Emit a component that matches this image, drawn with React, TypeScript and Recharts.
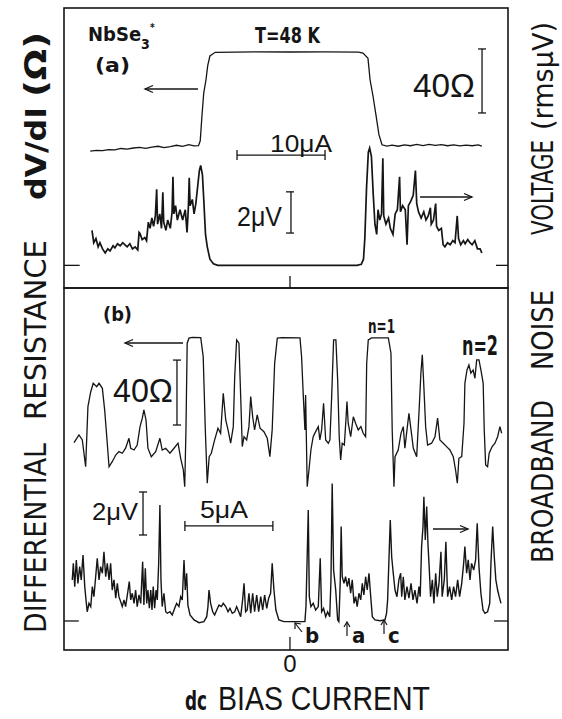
import { LineChart, Line, XAxis, YAxis, ReferenceLine } from "recharts";

const INK = "#151515";
const COND = "'Liberation Sans Narrow', 'DejaVu Sans Condensed', 'Liberation Sans', sans-serif";
const SANS = "'Liberation Sans', Arial, sans-serif";

// panel (a): dc bias current (uA) vs dV/dI (ohm)
const dvdiA: [number, number][] = [
  [-22.7, 85.6], [-22.0, 86.0], [-21.3, 85.8], [-20.6, 86.5], [-19.9, 86.3], [-19.2, 87.2],
  [-18.5, 86.8], [-17.8, 87.5], [-17.1, 87.9], [-16.4, 87.3], [-15.7, 88.1], [-15.0, 88.6],
  [-14.3, 87.8], [-13.6, 88.4], [-12.9, 89.2], [-12.2, 88.5], [-11.5, 89.6], [-10.9, 88.8],
  [-10.4, 89.0], [-10.2, 92], [-10.0, 108], [-9.8, 122], [-9.55, 130], [-9.35, 139],
  [-9.1, 145], [-8.5, 147.3], [-4, 147.6], [0, 147.5], [4, 147.6], [7.8, 147.4], [8.3, 146.8],
  [8.86, 143.5], [9.1, 130], [9.43, 120], [9.77, 108], [10.1, 96], [10.45, 89.5],
  [11.0, 88.7], [11.6, 89.3], [12.3, 88.6], [13.0, 89.5], [13.7, 88.9], [14.4, 89.7],
  [15.1, 89.0], [15.8, 89.8], [16.5, 89.1], [17.2, 89.6], [17.9, 88.9], [18.6, 89.4],
  [19.3, 88.8], [20.0, 89.3], [20.7, 88.9], [21.4, 89.5], [21.8, 88.7],
];

// panel (a): broadband noise (rms uV)
const noiseA: [number, number][] = [
  [-22.5, 1.7], [-22.3, 1.1], [-22.05, 1.3], [-21.8, 0.9], [-21.6, 1.1], [-21.3, 0.8],
  [-21.0, 0.6], [-20.7, 0.8], [-20.45, 0.7], [-20.1, 0.95], [-19.9, 0.85], [-19.6, 1.05],
  [-19.3, 0.95], [-19.0, 1.1], [-18.75, 1.0], [-18.5, 0.9], [-18.2, 1.05], [-17.9, 0.8],
  [-17.6, 0.9], [-17.3, 0.75], [-17.15, 1.6], [-17.05, 1.55], [-16.8, 1.25], [-16.5, 1.35],
  [-16.3, 1.2], [-16.1, 2.1], [-15.9, 1.8], [-15.7, 2.3], [-15.5, 1.9], [-15.3, 2.4],
  [-15.15, 3.7], [-15.05, 2.0], [-14.8, 2.5], [-14.6, 1.8], [-14.45, 3.55], [-14.35, 2.1],
  [-14.1, 1.7], [-13.9, 2.2], [-13.6, 1.8], [-13.4, 2.6], [-13.3, 4.3], [-13.2, 2.5],
  [-13.0, 2.9], [-12.8, 2.2], [-12.5, 2.7], [-12.2, 2.2], [-11.9, 2.7], [-11.7, 1.6],
  [-11.55, 2.8], [-11.45, 4.25], [-11.35, 2.9], [-11.1, 3.2], [-10.9, 2.5], [-10.7, 3.0],
  [-10.5, 3.8], [-10.3, 4.6], [-10.15, 4.85], [-9.95, 4.4], [-9.8, 3.2], [-9.6, 1.5],
  [-9.4, 0.9], [-9.1, 0.3], [-8.7, 0.08], [-8.2, 0], [7.6, 0], [8.1, 0.05], [8.35, 0.3],
  [8.5, 1.3], [8.7, 3.8], [8.9, 5.5], [9.05, 5.7], [9.25, 5.3], [9.45, 3.5], [9.65, 2.0],
  [9.85, 1.5], [10.0, 2.7], [10.2, 2.2], [10.4, 2.5], [10.55, 5.2], [10.65, 2.4], [10.9, 2.0],
  [11.2, 2.3], [11.4, 1.8], [11.7, 1.5], [11.95, 2.5], [12.2, 2.7], [12.45, 4.3], [12.55, 2.6],
  [12.8, 2.9], [13.1, 2.7], [13.3, 1.0], [13.45, 2.9], [13.7, 3.1], [14.0, 3.4], [14.25, 4.6],
  [14.4, 3.0], [14.6, 2.6], [14.9, 2.3], [15.2, 2.6], [15.45, 2.2], [15.7, 2.4], [15.95, 2.8],
  [16.05, 2.0], [16.3, 2.2], [16.55, 3.0], [16.65, 1.9], [16.9, 1.7], [17.2, 1.8], [17.4, 1.0],
  [17.6, 0.9], [17.9, 1.1], [18.2, 1.0], [18.5, 1.2], [18.75, 1.1], [19.0, 2.4], [19.15, 1.3],
  [19.4, 1.0], [19.7, 1.2], [19.9, 1.05], [20.2, 1.25], [20.45, 1.1], [20.7, 1.0], [21.0, 1.2],
  [21.3, 0.8], [21.6, 0.8], [21.8, 0.6],
];

// panel (b): dV/dI (ohm)
const dvdiB: [number, number][] = [
  [-12.27, 127.7], [-11.99, 132.5], [-11.8, 129.4], [-11.61, 112.9], [-11.48, 149.9],
  [-11.32, 159.1], [-11.18, 164.3], [-10.98, 162.2], [-10.85, 164.3], [-10.66, 161.2],
  [-10.53, 147.9], [-10.41, 131.4], [-10.28, 112.9], [-10.1, 116.0], [-9.9, 120.1],
  [-9.72, 122.2], [-9.53, 121.2], [-9.34, 124.3], [-9.15, 130.4], [-9.05, 124.3],
  [-8.86, 123.2], [-8.68, 126.3], [-8.52, 137.6], [-8.39, 142.8], [-8.3, 147.9],
  [-8.18, 141.7], [-8.07, 124.3], [-7.88, 119.1], [-7.63, 122.2], [-7.39, 130.4],
  [-7.26, 123.2], [-7.06, 124.3], [-6.82, 121.2], [-6.59, 124.3], [-6.36, 127.4],
  [-6.21, 118.1], [-6.06, 110.9], [-5.98, 100.6], [-5.91, 135.6], [-5.84, 189.0],
  [-5.74, 192.1], [-5.55, 192.6], [-5.07, 192.4], [-4.93, 180.7], [-4.81, 135.6],
  [-4.7, 102.7], [-4.59, 119.1], [-4.47, 121.2], [-4.28, 129.4], [-4.09, 136.6],
  [-3.94, 133.5], [-3.79, 158.2], [-3.65, 141.7], [-3.52, 135.6], [-3.37, 127.4],
  [-3.22, 137.6], [-3.14, 168.4], [-3.03, 191.0], [-2.9, 189.0], [-2.8, 156.1],
  [-2.71, 125.3], [-2.61, 131.4], [-2.46, 129.4], [-2.33, 137.6], [-2.23, 156.1],
  [-2.12, 143.7], [-2.01, 135.6], [-1.86, 144.8], [-1.7, 136.6], [-1.48, 134.5],
  [-1.29, 130.4], [-1.14, 119.1], [-1.01, 135.6], [-0.87, 176.6], [-0.72, 192.1],
  [-0.44, 192.4], [0.57, 192.3], [0.66, 180.7], [0.76, 156.1], [0.85, 135.6], [0.89, 157.1],
  [0.98, 100.6], [1.08, 110.9], [1.19, 123.2], [1.32, 131.4], [1.46, 134.5], [1.61, 137.6],
  [1.7, 129.4], [1.8, 135.6], [1.91, 152.0], [2.03, 129.4], [2.18, 127.4], [2.27, 129.4],
  [2.37, 156.1], [2.48, 191.0], [2.61, 191.0], [2.71, 166.4], [2.8, 131.4], [2.88, 117.1],
  [2.97, 127.4], [3.09, 126.3], [3.18, 141.7], [3.24, 153.0], [3.31, 139.7], [3.45, 131.4],
  [3.6, 143.7], [3.73, 139.7], [3.88, 135.6], [4.03, 137.6], [4.16, 133.5], [4.3, 131.4],
  [4.36, 176.6], [4.45, 191.0], [4.64, 192.3], [5.59, 192.3], [5.74, 182.8], [5.81, 135.6],
  [5.91, 100.6], [5.97, 119.1], [6.15, 123.2], [6.31, 133.5], [6.44, 137.6], [6.53, 124.3],
  [6.65, 135.6], [6.76, 145.8], [6.88, 135.6], [7.01, 124.3], [7.2, 119.1], [7.33, 145.8],
  [7.44, 170.5], [7.52, 181.8], [7.6, 164.3], [7.71, 137.6], [7.82, 126.3], [8.05, 127.4],
  [8.24, 131.4], [8.39, 142.8], [8.52, 129.4], [8.71, 127.4], [8.9, 125.3], [9.09, 123.2],
  [9.28, 119.1], [9.41, 110.9], [9.51, 102.7], [9.6, 118.1], [9.76, 119.1], [9.89, 139.7],
  [9.94, 164.3], [10.06, 172.5], [10.17, 175.6], [10.28, 170.5], [10.41, 172.5],
  [10.51, 167.4], [10.61, 178.7], [10.74, 178.7], [10.85, 172.5], [10.98, 164.3],
  [11.04, 135.6], [11.12, 114.0], [11.23, 112.9], [11.32, 121.2], [11.49, 125.3],
  [11.65, 127.4], [11.8, 131.4], [11.93, 137.6], [12.03, 133.5],
];

// panel (b): broadband noise (rms uV)
const noiseB: [number, number][] = [
  [-12.37, 1.91], [-12.31, 2.68], [-12.23, 1.6], [-12.14, 2.84], [-12.05, 1.75], [-11.95, 2.53],
  [-11.86, 1.91], [-11.76, 3.07], [-11.66, 1.6], [-11.59, 0.98], [-11.52, 0.43], [-11.42, 0.82],
  [-11.32, 0.67], [-11.23, 1.6], [-11.14, 1.13], [-11.04, 2.06], [-10.95, 2.92], [-10.85, 1.91],
  [-10.76, 2.53], [-10.66, 2.22], [-10.57, 3.22], [-10.47, 2.06], [-10.38, 2.68], [-10.28, 1.91],
  [-10.19, 2.68], [-10.1, 1.44], [-10.0, 1.91], [-9.9, 1.06], [-9.81, 1.75], [-9.72, 1.13],
  [-9.62, 0.9], [-9.53, 0.67], [-9.43, 0.98], [-9.34, 0.67], [-9.24, 1.21], [-9.13, 1.83],
  [-9.05, 0.98], [-8.96, 1.29], [-8.86, 0.82], [-8.77, 1.44], [-8.68, 0.67], [-8.58, 1.21],
  [-8.48, 0.82], [-8.37, 2.76], [-8.3, 0.74], [-8.22, 2.45], [-8.14, 0.82], [-8.07, 1.44],
  [-7.99, 0.59], [-7.91, 1.44], [-7.84, 0.51], [-7.77, 1.6], [-7.69, 0.59], [-7.61, 1.44],
  [-7.54, 0.98], [-7.46, 2.68], [-7.39, 5.4], [-7.33, 1.91], [-7.26, 0.67], [-7.16, 1.29],
  [-7.06, 0.43], [-6.97, 0.36], [-6.82, 0.43], [-6.69, 0.28], [-6.55, 0.59], [-6.44, 0.82],
  [-6.31, 0.67], [-6.21, 1.13], [-6.12, 0.98], [-6.02, 2.84], [-5.95, 1.44], [-5.87, 2.22],
  [-5.8, 0.74], [-5.68, 0.28], [-5.45, 0.05], [-5.17, -0.08], [-4.89, -0.03], [-4.73, 0.2],
  [-4.66, 0.67], [-4.6, 1.44], [-4.51, 0.82], [-4.39, 0.43], [-4.28, 0.28], [-4.16, 0.51],
  [-4.03, 0.74], [-3.9, 0.67], [-3.79, 0.82], [-3.65, 0.67], [-3.52, 0.43], [-3.41, 0.59],
  [-3.28, 0.36], [-3.14, 0.43], [-3.03, 0.67], [-2.91, 0.43], [-2.8, 0.2], [-2.69, 0.98],
  [-2.61, 1.75], [-2.52, 0.43], [-2.43, 0.51], [-2.33, 1.29], [-2.23, 0.36], [-2.12, 1.29],
  [-2.01, 0.43], [-1.89, 1.21], [-1.78, 0.43], [-1.66, 1.13], [-1.55, 0.51], [-1.44, 1.21],
  [-1.32, 0.59], [-1.21, 1.06], [-1.1, 1.29], [-1.01, 2.68], [-0.91, 1.44], [-0.8, 0.51],
  [-0.63, 0.05], [-0.34, -0.03], [0.85, -0.03], [0.91, 0.67], [0.97, 2.68], [1.04, 5.16],
  [1.1, 1.13], [1.19, 0.67], [1.32, 0.82], [1.46, 0.51], [1.61, 0.67], [1.72, 2.92],
  [1.8, 0.43], [1.91, 0.59], [2.03, 0.2], [2.14, 0.43], [2.26, 0.2], [2.33, 1.91], [2.4, 6.4],
  [2.48, 2.37], [2.6, 1.44], [2.71, 0.05], [2.78, -0.03], [2.86, 1.91], [2.91, 4.39],
  [2.97, 2.06], [3.07, 1.75], [3.16, 2.06], [3.26, 1.6], [3.35, 1.99], [3.45, 1.29],
  [3.54, 1.91], [3.64, 0.82], [3.73, 1.13], [3.82, 0.67], [3.92, 1.29], [4.02, 0.98],
  [4.11, 1.75], [4.2, 1.21], [4.3, 2.06], [4.39, 1.44], [4.49, 2.22], [4.59, 1.13],
  [4.68, 0.2], [4.83, 0.05], [5.11, 0.01], [5.4, 0.05], [5.49, 0.36], [5.55, 0.98],
  [5.63, 2.99], [5.7, 4.7], [5.78, 2.99], [5.87, 2.22], [5.97, 1.44], [6.08, 1.13],
  [6.19, 1.91], [6.29, 2.22], [6.35, 1.13], [6.44, 2.06], [6.53, 0.98], [6.65, 1.6],
  [6.76, 1.06], [6.88, 1.75], [6.99, 0.98], [7.1, 1.44], [7.22, 0.82], [7.33, 1.6],
  [7.4, 1.13], [7.48, 3.46], [7.56, 4.39], [7.61, 5.78], [7.69, 3.77], [7.77, 5.32],
  [7.84, 3.61], [7.91, 2.53], [7.99, 1.13], [8.09, 1.91], [8.18, 0.82], [8.28, 2.22],
  [8.37, 1.13], [8.47, 1.75], [8.58, 3.22], [8.65, 1.13], [8.77, 1.91], [8.86, 3.69],
  [8.96, 1.13], [9.07, 1.6], [9.19, 0.98], [9.3, 1.6], [9.41, 1.13], [9.53, 1.91],
  [9.64, 1.13], [9.76, 1.75], [9.87, 2.68], [9.94, 3.46], [10.04, 2.22], [10.13, 2.84],
  [10.23, 1.91], [10.32, 2.68], [10.44, 2.37], [10.55, 2.84], [10.64, 4.54], [10.74, 2.53],
  [10.85, 1.29], [10.97, 0.51], [11.08, 0.36], [11.23, 0.43], [11.35, 0.82], [11.42, 2.68],
  [11.52, 4.39], [11.61, 2.99], [11.7, 1.91], [11.8, 1.44], [11.89, 1.13], [11.99, 0.82],
];

// axis ranges (uA, ohm, uV)
const xDomA = [-25.68, 24.77];
const xDomB = [-12.84, 12.39];
const rDomA = [0, 175];
const vDomA = [-1.1, 12.5];
const rDomB = [0, 223];
const vDomB = [-1.35, 15.49];

const pts = (arr: [number, number][]) => arr.map(([x, y]) => ({ x, y }));

type Seg = [number, number, number, number];

function segs(list: Seg[], axis: string, w = 1.3) {
  return list.map((s, i) => (
    <ReferenceLine
      key={axis + i}
      yAxisId={axis}
      ifOverflow="visible"
      segment={[{ x: s[0], y: s[1] }, { x: s[2], y: s[3] }]}
      stroke={INK}
      strokeWidth={w}
    />
  ));
}

function Arrow({ x1, x2, y, head }: { x1: number; x2: number; y: number; head: number }) {
  const d = head < x1 ? 8 : -8;
  return (
    <g stroke={INK} strokeWidth={1.3} fill="none">
      <line x1={x1} y1={y} x2={x2} y2={y} />
      <polyline points={`${head + d},${y - 3.5} ${head},${y} ${head + d},${y + 3.5}`} />
    </g>
  );
}

export default function App() {
  return (
    <div style={{ position: "absolute", left: 0, top: 0, width: 562, height: 719, background: "#fff" }}>
      <div style={{ position: "absolute", left: 0, top: 0 }}>
        <LineChart width={562} height={300} margin={{ top: 8, right: 54, bottom: 12, left: 64 }}>
          <XAxis type="number" dataKey="x" domain={xDomA} allowDataOverflow hide />
          <YAxis yAxisId="r" domain={rDomA} allowDataOverflow hide />
          <YAxis yAxisId="v" orientation="right" domain={vDomA} allowDataOverflow hide />
          {segs([[-25.68, 0, -23.9, 0], [23.4, 0, 24.77, 0], [-0.45, 1.57, 0.45, 1.57], [-0.45, 3.57, 0.45, 3.57], [0.11, 1.57, 0.11, 3.57]], "v")}
          {segs([[0, 0, 0, 7.5], [21.82, 109.4, 21.82, 149.4], [21.37, 109.4, 22.27, 109.4], [21.37, 149.4, 22.27, 149.4],
            [-6.02, 83.1, 3.98, 83.1], [-6.02, 80, -6.02, 86.2], [3.98, 80, 3.98, 86.2]], "r")}
          <Line data={pts(dvdiA)} dataKey="y" yAxisId="r" type="linear" stroke={INK} strokeWidth={1.3} dot={false} isAnimationActive={false} />
          <Line data={pts(noiseA)} dataKey="y" yAxisId="v" type="linear" stroke={INK} strokeWidth={1.7} dot={false} isAnimationActive={false} />
        </LineChart>
      </div>
      <div style={{ position: "absolute", left: 0, top: 280 }}>
        <LineChart width={562} height={380} margin={{ top: 8, right: 54, bottom: 10, left: 64 }}>
          <XAxis type="number" dataKey="x" domain={xDomB} allowDataOverflow hide />
          <YAxis yAxisId="r" domain={rDomB} allowDataOverflow hide />
          <YAxis yAxisId="v" orientation="right" domain={vDomB} allowDataOverflow hide />
          {segs([[-12.84, 0, -12.0, 0], [11.6, 0, 12.39, 0], [-8.35, 4.0, -8.35, 6.0], [-8.58, 4.0, -8.12, 4.0], [-8.58, 6.0, -8.12, 6.0],
            [-5.97, 4.42, -0.97, 4.42], [-5.97, 4.19, -5.97, 4.65], [-0.97, 4.19, -0.97, 4.65]], "v")}
          {segs([[0, 0, 0, 8], [-6.42, 138.6, -6.42, 178.6], [-6.65, 138.6, -6.19, 138.6], [-6.65, 178.6, -6.19, 178.6]], "r")}
          <Line data={pts(dvdiB)} dataKey="y" yAxisId="r" type="linear" stroke={INK} strokeWidth={1.3} dot={false} isAnimationActive={false} />
          <Line data={pts(noiseB)} dataKey="y" yAxisId="v" type="linear" stroke={INK} strokeWidth={1.4} dot={false} isAnimationActive={false} />
        </LineChart>
      </div>
      <svg width={562} height={719} style={{ position: "absolute", left: 0, top: 0, pointerEvents: "none" }}>
        <rect x={64} y={8} width={444} height={280} fill="none" stroke={INK} strokeWidth={1.6} />
        <rect x={64} y={288} width={444} height={362} fill="none" stroke={INK} strokeWidth={1.6} />

        <g fill={INK} fontFamily={COND} fontWeight="bold">
          <text x={88} y={41} fontSize={20}>
            NbSe<tspan dy={8} fontSize={14}>3</tspan><tspan dy={-18} fontSize={10}>*</tspan>
          </text>
          <text x={95} y={72} fontSize={20} textLength={35} lengthAdjust="spacingAndGlyphs">(a)</text>
          <text x={255} y={43} fontSize={21} textLength={65} lengthAdjust="spacingAndGlyphs">T=48 K</text>
          <text x={103} y={321} fontSize={20} textLength={29} lengthAdjust="spacingAndGlyphs">(b)</text>
          <text x={368} y={333} fontSize={19} textLength={27} lengthAdjust="spacingAndGlyphs">n=1</text>
          <text x={462} y={355} fontSize={26} textLength={36} lengthAdjust="spacingAndGlyphs">n=2</text>
          <text x={305} y={643} fontSize={22}>b</text>
          <text x={352} y={643} fontSize={22}>a</text>
          <text x={388} y={643} fontSize={22}>c</text>
          <text x={185} y={710} fontSize={26} textLength={22} lengthAdjust="spacingAndGlyphs">dc</text>
        </g>

        <g fill={INK} fontFamily={SANS}>
          <text x={413} y={97} fontSize={33} textLength={62} lengthAdjust="spacingAndGlyphs">40Ω</text>
          <text x={270} y={152} fontSize={24} textLength={62} lengthAdjust="spacingAndGlyphs">10μA</text>
          <text x={237} y={226} fontSize={27} textLength={45} lengthAdjust="spacingAndGlyphs">2μV</text>
          <text x={113} y={402} fontSize={33} textLength={60} lengthAdjust="spacingAndGlyphs">40Ω</text>
          <text x={92} y={520} fontSize={24} textLength={46} lengthAdjust="spacingAndGlyphs">2μV</text>
          <text x={200} y={518} fontSize={24} textLength={48} lengthAdjust="spacingAndGlyphs">5μA</text>
          <text x={290} y={672} fontSize={24} textAnchor="middle">0</text>
          <text x={218} y={710} fontSize={33} textLength={212} lengthAdjust="spacingAndGlyphs">BIAS CURRENT</text>
        </g>

        <g fill={INK} fontFamily={COND}>
          <text transform="translate(46,633) rotate(-90)" fontSize={30} textLength={190} lengthAdjust="spacingAndGlyphs">DIFFERENTIAL</text>
          <text transform="translate(46,420) rotate(-90)" fontSize={30} textLength={180} lengthAdjust="spacingAndGlyphs">RESISTANCE</text>
          <text transform="translate(46,200) rotate(-90)" fontSize={28} fontWeight="bold" textLength={93} lengthAdjust="spacingAndGlyphs">dV/dI</text>
          <text transform="translate(46,97) rotate(-90)" fontSize={30} fontWeight="bold" textLength={65} lengthAdjust="spacingAndGlyphs">(Ω)</text>
          <text transform="translate(553,563) rotate(-90)" fontSize={30} textLength={163} lengthAdjust="spacingAndGlyphs">BROADBAND</text>
          <text transform="translate(553,370) rotate(-90)" fontSize={30} textLength={80} lengthAdjust="spacingAndGlyphs">NOISE</text>
          <text transform="translate(553,235) rotate(-90)" fontSize={30} textLength={95} lengthAdjust="spacingAndGlyphs">VOLTAGE</text>
          <text transform="translate(553,130) rotate(-90)" fontSize={28} textLength={108} lengthAdjust="spacingAndGlyphs">(rmsμV)</text>
        </g>

        <Arrow x1={198} x2={145} y={89} head={145} />
        <Arrow x1={420} x2={472} y={197} head={472} />
        <Arrow x1={183} x2={125} y={343} head={125} />
        <Arrow x1={433} x2={468} y={529} head={468} />

        <g stroke={INK} strokeWidth={1.2} fill="none">
          <line x1={302} y1={632} x2={295} y2={623} />
          <polyline points="295,629 295,623 301,624" />
          <line x1={347} y1={636} x2={347} y2={622} />
          <polyline points="344,627 347,622 350,627" />
          <line x1={384} y1={634} x2={384} y2={620} />
          <polyline points="381,625 384,620 387,625" />
        </g>
      </svg>
    </div>
  );
}
